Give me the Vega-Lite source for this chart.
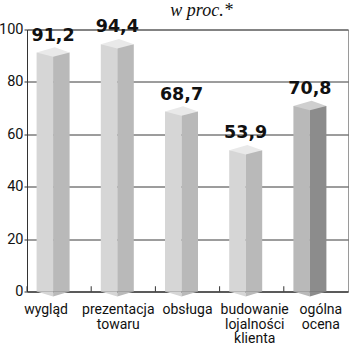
{
  "$schema": "https://vega.github.io/schema/vega-lite/v6.json",
  "width": 321,
  "height": 262,
  "autosize": {"type": "none"},
  "padding": {"left": 27, "top": 29.5, "right": 2, "bottom": 58.5},
  "config": {
    "locale": {"number": {"decimal": ",", "thousands": " ", "grouping": [3], "currency": ["", " zł"]}},
    "view": {"stroke": "#9a9a9a"}
  },
  "title": {
    "text": "w proc.*",
    "font": "Liberation Serif",
    "fontStyle": "italic",
    "fontWeight": "normal",
    "fontSize": 18,
    "color": "#111",
    "anchor": "middle",
    "frame": "group",
    "dx": 14,
    "baseline": "alphabetic",
    "offset": -16
  },
  "data": {
    "values": [
      {"k": "wygląd", "v": 91.2},
      {"k": "prezentacja towaru", "v": 94.4},
      {"k": "obsługa", "v": 68.7},
      {"k": "budowanie lojalności klienta", "v": 53.9},
      {"k": "ogólna ocena", "v": 70.8}
    ]
  },
  "encoding": {
    "x": {
      "field": "k",
      "type": "nominal",
      "sort": null,
      "scale": {"paddingInner": 0, "paddingOuter": 0},
      "axis": {
        "title": null,
        "labelAngle": 0,
        "labelExpr": "split(datum.label, ' ')",
        "labelFont": "Roboto",
        "labelFontSize": 14,
        "labelColor": "#111",
        "labelLineHeight": 14.5,
        "labelOffset": {
          "condition": [
            {"test": "datum.value === 'wygląd'", "value": -13},
            {"test": "datum.value === 'prezentacja towaru'", "value": -5},
            {"test": "datum.value === 'budowanie lojalności klienta'", "value": 3},
            {"test": "datum.value === 'ogólna ocena'", "value": 5}
          ],
          "value": 0
        },
        "ticks": false,
        "domainColor": "#333",
        "labelPadding": 11
      }
    },
    "y": {
      "field": "v",
      "type": "quantitative",
      "scale": {"domain": [0, 100], "nice": false},
      "axis": {
        "title": null,
        "values": [0, 20, 40, 60, 80, 100],
        "grid": true,
        "gridColor": "#3a3a3a",
        "gridOpacity": 1,
        "tickColor": "#333",
        "tickSize": 3,
        "domainColor": "#333",
        "labelFont": "Roboto",
        "labelFontSize": 14.5,
        "labelColor": "#111",
        "labelPadding": 1
      }
    }
  },
  "layer": [
    {
      "mark": {"type": "rule", "color": "#333", "strokeWidth": 1},
      "encoding": {
        "x": {"field": "k", "type": "nominal", "sort": null, "bandPosition": 0},
        "y": {"datum": 0},
        "y2": {"datum": 2}
      }
    },
    {
      "mark": {"type": "bar", "width": 16.5, "xOffset": -14.25},
      "encoding": {
        "color": {"condition": {"test": "datum.k === 'ogólna ocena'", "value": "#b9b9b9"}, "value": "#d6d6d6"}
      }
    },
    {
      "mark": {"type": "bar", "width": 16.5, "xOffset": 2.25},
      "encoding": {
        "color": {"condition": {"test": "datum.k === 'ogólna ocena'", "value": "#8c8c8c"}, "value": "#b9b9b9"}
      }
    },
    {
      "mark": {"type": "point", "filled": true, "opacity": 1, "strokeWidth": 0, "size": 1089, "xOffset": -6, "shape": "M-1,0L0,0.3L0,0Z"},
      "encoding": {
        "y": {"datum": 0},
        "color": {"condition": {"test": "datum.k === 'ogólna ocena'", "value": "#b9b9b9"}, "value": "#d6d6d6"}
      }
    },
    {
      "mark": {"type": "point", "filled": true, "opacity": 1, "strokeWidth": 0, "size": 1089, "xOffset": -6, "shape": "M0,0L0,0.3L1,0Z"},
      "encoding": {
        "y": {"datum": 0},
        "color": {"condition": {"test": "datum.k === 'ogólna ocena'", "value": "#8c8c8c"}, "value": "#b9b9b9"}
      }
    },
    {
      "mark": {"type": "point", "filled": true, "opacity": 1, "strokeWidth": 0, "size": 1089, "xOffset": -6, "shape": "M-1,0L0.1,-0.32L1,0L0,0.26Z"},
      "encoding": {
        "color": {"condition": {"test": "datum.k === 'ogólna ocena'", "value": "#cfcfcf"}, "value": "#e9e9e9"}
      }
    },
    {
      "mark": {"type": "text", "dy": -12, "xOffset": -6, "font": "DejaVu Sans", "fontWeight": "bold", "fontSize": 17.5, "baseline": "alphabetic", "color": "#111"},
      "encoding": {
        "text": {"field": "v", "type": "quantitative", "format": ".1f"}
      }
    }
  ]
}
